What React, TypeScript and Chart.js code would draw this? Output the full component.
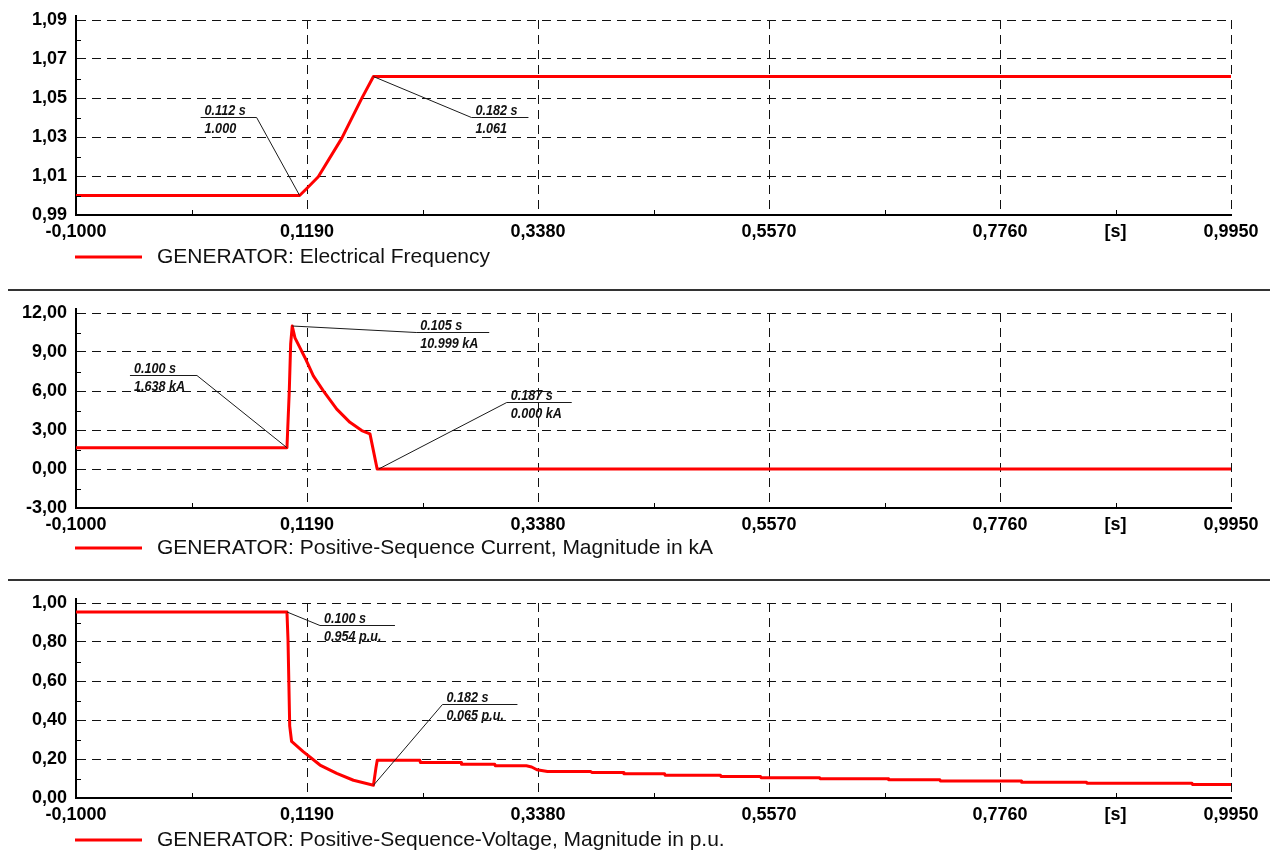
import React, { useEffect, useRef } from "react";
import { Chart, registerables } from "chart.js";

Chart.register(...registerables);

// ---------- shared x axis ----------
const xMajorTicks = [-0.1, 0.119, 0.338, 0.557, 0.776, 0.995];
const xMajorLabels = ["-0,1000", "0,1190", "0,3380", "0,5570", "0,7760", "0,9950"];
const xUnitLabel = "[s]";

// ---------- panel 1: frequency ----------
const freqTime = [-0.1, 0.112, 0.119, 0.1297, 0.1519, 0.1709, 0.182, 0.995];
const freqValue = [1.0, 1.0, 1.0037, 1.0096, 1.0293, 1.0498, 1.061, 1.061];
const freqYTicks = [0.99, 1.01, 1.03, 1.05, 1.07, 1.09];
const freqYLabels = ["0,99", "1,01", "1,03", "1,05", "1,07", "1,09"];
const freqLegend = "GENERATOR: Electrical Frequency";
const freqNotes = [
  { t: 0.112, v: 1.0, l1: "0.112 s", l2: "1.000" },
  { t: 0.182, v: 1.061, l1: "0.182 s", l2: "1.061" },
];

// ---------- panel 2: current ----------
const currTime = [-0.1, 0.1, 0.1022, 0.1035, 0.105, 0.1076, 0.1124, 0.1171, 0.125, 0.1345, 0.1472, 0.1597, 0.1709, 0.1787, 0.1819, 0.1855, 0.187, 0.995];
const currValue = [1.638, 1.638, 6.0, 9.6, 10.999, 10.09, 9.32, 8.56, 7.16, 6.01, 4.61, 3.59, 2.96, 2.7, 1.43, 0.0, 0.0, 0.0];
const currYTicks = [-3, 0, 3, 6, 9, 12];
const currYLabels = ["-3,00", "0,00", "3,00", "6,00", "9,00", "12,00"];
const currLegend = "GENERATOR: Positive-Sequence Current, Magnitude in kA";
const currNotes = [
  { t: 0.1, v: 1.638, l1: "0.100 s", l2: "1.638 kA" },
  { t: 0.105, v: 10.999, l1: "0.105 s", l2: "10.999 kA" },
  { t: 0.187, v: 0.0, l1: "0.187 s", l2: "0.000 kA" },
];

// ---------- panel 3: voltage ----------
const voltTime = [-0.1, 0.1, 0.101, 0.1026, 0.1044, 0.1154, 0.1313, 0.1472, 0.163, 0.182, 0.1843, 0.1856, 0.226, 0.2265, 0.265, 0.2655, 0.297, 0.2975, 0.327, 0.332, 0.337, 0.347, 0.388, 0.389, 0.419, 0.4195, 0.458, 0.4585, 0.511, 0.5115, 0.549, 0.5495, 0.605, 0.6055, 0.67, 0.6705, 0.719, 0.7195, 0.796, 0.7965, 0.858, 0.8585, 0.958, 0.9585, 0.995];
const voltValue = [0.954, 0.954, 0.81, 0.37, 0.29, 0.238, 0.169, 0.126, 0.091, 0.065, 0.152, 0.194, 0.194, 0.182, 0.182, 0.173, 0.173, 0.165, 0.165, 0.159, 0.145, 0.136, 0.136, 0.131, 0.131, 0.124, 0.124, 0.117, 0.117, 0.11, 0.11, 0.104, 0.104, 0.099, 0.099, 0.094, 0.094, 0.087, 0.087, 0.081, 0.081, 0.076, 0.076, 0.069, 0.069];
const voltYTicks = [0, 0.2, 0.4, 0.6, 0.8, 1.0];
const voltYLabels = ["0,00", "0,20", "0,40", "0,60", "0,80", "1,00"];
const voltLegend = "GENERATOR: Positive-Sequence-Voltage, Magnitude in p.u.";
const voltNotes = [
  { t: 0.1, v: 0.954, l1: "0.100 s", l2: "0.954 p.u." },
  { t: 0.182, v: 0.065, l1: "0.182 s", l2: "0.065 p.u." },
];

// ---------- layout (pixels) ----------
const FONT = "'Liberation Sans', Arial, Helvetica, sans-serif";
const PLOT_H = 195;
const AXIS_W = 76;
const RIGHT_PAD = 39;

type Note = { t: number; v: number; l1: string; l2: string };
type NoteLayout = { dx: number; dy: number; w: number; dir: number };

const freqNoteLayout: NoteLayout[] = [
  { dx: -43, dy: -79, w: 56, dir: -1 },
  { dx: 98, dy: 40, w: 57, dir: 1 },
];
const currNoteLayout: NoteLayout[] = [
  { dx: -90, dy: -73, w: 67, dir: -1 },
  { dx: 124, dy: 6, w: 73, dir: 1 },
  { dx: 128, dy: -67, w: 65, dir: 1 },
];
const voltNoteLayout: NoteLayout[] = [
  { dx: 33, dy: 13, w: 75, dir: 1 },
  { dx: 69, dy: -81, w: 75, dir: 1 },
];

function withMinor(major: number[]): number[] {
  const out: number[] = [];
  for (let i = 0; i < major.length; i++) {
    out.push(major[i]);
    if (i < major.length - 1) out.push((major[i] + major[i + 1]) / 2);
  }
  return out;
}

type PanelProps = {
  top: number;
  height: number;
  plotTop: number;
  legendY: number;
  time: number[];
  values: number[];
  yTicks: number[];
  yLabels: string[];
  legend: string;
  notes: Note[];
  noteLayout: NoteLayout[];
};

function Panel(p: PanelProps) {
  const ref = useRef<HTMLCanvasElement | null>(null);

  useEffect(() => {
    const canvas = ref.current;
    if (!canvas) return;
    const allX = withMinor(xMajorTicks);
    const allY = withMinor(p.yTicks);

    const deco = {
      id: "deco",
      afterDraw(chart: any) {
        const ctx = chart.ctx as CanvasRenderingContext2D;
        const xs = chart.scales.x;
        const ys = chart.scales.y;
        const area = chart.chartArea;
        ctx.save();
        ctx.strokeStyle = "#000";
        ctx.lineWidth = 2;
        ctx.beginPath();
        ctx.moveTo(area.left, area.top - 5);
        ctx.lineTo(area.left, area.top);
        ctx.stroke();
        ctx.lineWidth = 1;
        allX.forEach((v, i) => {
          if (i % 2 === 1) {
            const px = Math.round(xs.getPixelForValue(v)) + 0.5;
            ctx.beginPath();
            ctx.moveTo(px, area.bottom);
            ctx.lineTo(px, area.bottom - 5);
            ctx.stroke();
          }
        });
        allY.forEach((v, i) => {
          if (i % 2 === 1) {
            const py = Math.round(ys.getPixelForValue(v)) + 0.5;
            ctx.beginPath();
            ctx.moveTo(area.left, py);
            ctx.lineTo(area.left + 5, py);
            ctx.stroke();
          }
        });
        p.notes.forEach((n, i) => {
          const L = p.noteLayout[i];
          const px = xs.getPixelForValue(n.t);
          const py = ys.getPixelForValue(n.v);
          const ex = px + L.dx;
          const ey = Math.round(py + L.dy) + 0.5;
          const fx = ex + L.dir * L.w;
          ctx.strokeStyle = "#1a1a1a";
          ctx.lineWidth = 1;
          ctx.beginPath();
          ctx.moveTo(px, py);
          ctx.lineTo(ex, ey);
          ctx.lineTo(fx, ey);
          ctx.stroke();
          const tx = Math.min(ex, fx) + 4;
          ctx.fillStyle = "#111";
          ctx.font = `italic bold 15px ${FONT}`;
          ctx.textBaseline = "alphabetic";
          ctx.textAlign = "left";
          ctx.save();
          ctx.translate(tx, ey - 3);
          ctx.scale(0.84, 1);
          ctx.fillText(n.l1, 0, 0);
          ctx.restore();
          ctx.save();
          ctx.translate(tx, ey + 15);
          ctx.scale(0.84, 1);
          ctx.fillText(n.l2, 0, 0);
          ctx.restore();
        });
        ctx.strokeStyle = "#ff0000";
        ctx.lineWidth = 3;
        ctx.beginPath();
        ctx.moveTo(75, p.legendY);
        ctx.lineTo(142, p.legendY);
        ctx.stroke();
        ctx.fillStyle = "#111";
        ctx.font = `21px ${FONT}`;
        ctx.textBaseline = "middle";
        ctx.textAlign = "left";
        ctx.fillText(p.legend, 157, p.legendY);
        ctx.restore();
      },
    };

    const tickFont = { family: FONT, size: 18, weight: "bold" as const };
    const gridColor = (c: any) => (c.index % 2 === 0 && c.index > 0 ? "#111" : "rgba(0,0,0,0)");

    const chart = new Chart(canvas, {
      type: "line",
      data: {
        datasets: [
          {
            data: p.time.map((t, i) => ({ x: t, y: p.values[i] })),
            borderColor: "#ff0000",
            borderWidth: 3,
            borderJoinStyle: "round",
            borderCapStyle: "round",
            pointRadius: 0,
            tension: 0,
            fill: false,
          },
        ],
      },
      options: {
        animation: false,
        responsive: false,
        maintainAspectRatio: false,
        layout: { padding: { top: p.plotTop, left: 0, right: RIGHT_PAD, bottom: 0 } },
        plugins: { legend: { display: false }, tooltip: { enabled: false } },
        scales: {
          x: {
            type: "linear",
            min: xMajorTicks[0],
            max: xMajorTicks[xMajorTicks.length - 1],
            afterBuildTicks: (s: any) => {
              s.ticks = allX.map((v) => ({ value: v }));
            },
            afterFit: (s: any) => {
              s.height = p.height - p.plotTop - PLOT_H;
            },
            ticks: {
              autoSkip: false,
              maxRotation: 0,
              padding: 6,
              color: "#000",
              font: tickFont,
              callback: (_v: any, i: number) =>
                i % 2 === 0 ? xMajorLabels[i / 2] : i === allX.length - 2 ? xUnitLabel : "",
            },
            grid: { drawTicks: false, lineWidth: 1, color: gridColor },
            border: { display: true, color: "#000", width: 2, dash: [9, 6] },
          },
          y: {
            type: "linear",
            min: p.yTicks[0],
            max: p.yTicks[p.yTicks.length - 1],
            afterBuildTicks: (s: any) => {
              s.ticks = allY.map((v) => ({ value: v }));
            },
            afterFit: (s: any) => {
              s.width = AXIS_W;
            },
            ticks: {
              autoSkip: false,
              padding: 9,
              color: "#000",
              font: tickFont,
              callback: (_v: any, i: number) => (i % 2 === 0 ? p.yLabels[i / 2] : ""),
            },
            grid: { drawTicks: false, lineWidth: 1, color: gridColor },
            border: { display: true, color: "#000", width: 2, dash: [9, 6] },
          },
        },
      },
      plugins: [deco],
    });
    return () => chart.destroy();
  }, []);

  return (
    <canvas
      ref={ref}
      width={1270}
      height={p.height}
      style={{ position: "absolute", left: 0, top: p.top, display: "block" }}
    />
  );
}

export default function App() {
  return (
    <div
      style={{
        position: "absolute",
        left: 0,
        top: 0,
        width: 1270,
        height: 854,
        background: "#fff",
        overflow: "hidden",
      }}
    >
      <Panel
        top={0}
        height={290}
        plotTop={20}
        legendY={257}
        time={freqTime}
        values={freqValue}
        yTicks={freqYTicks}
        yLabels={freqYLabels}
        legend={freqLegend}
        notes={freqNotes}
        noteLayout={freqNoteLayout}
      />
      <Panel
        top={290}
        height={290}
        plotTop={23}
        legendY={258}
        time={currTime}
        values={currValue}
        yTicks={currYTicks}
        yLabels={currYLabels}
        legend={currLegend}
        notes={currNotes}
        noteLayout={currNoteLayout}
      />
      <Panel
        top={580}
        height={274}
        plotTop={23}
        legendY={260}
        time={voltTime}
        values={voltValue}
        yTicks={voltYTicks}
        yLabels={voltYLabels}
        legend={voltLegend}
        notes={voltNotes}
        noteLayout={voltNoteLayout}
      />
      <div style={{ position: "absolute", left: 8, top: 289, width: 1262, height: 2, background: "#333" }} />
      <div style={{ position: "absolute", left: 8, top: 579, width: 1262, height: 2, background: "#333" }} />
    </div>
  );
}
